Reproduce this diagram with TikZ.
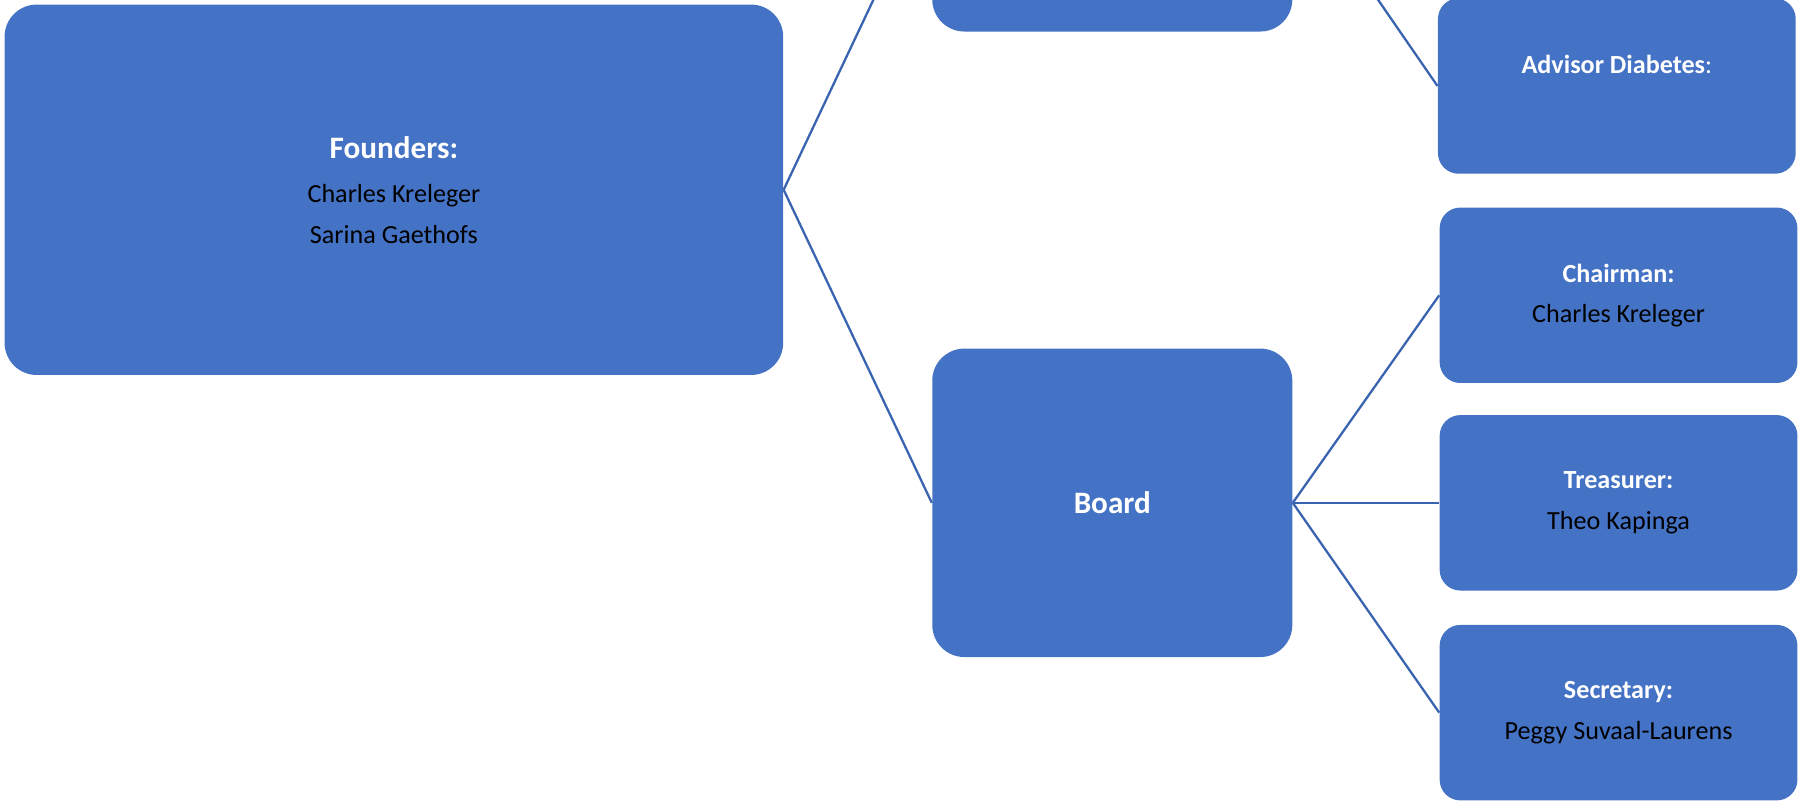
\documentclass[tikz,border=0pt]{standalone}
\usepackage{fontspec}
\setmainfont{Carlito}
\usepackage{tikz}
\usetikzlibrary{calc}

\definecolor{boxblue}{HTML}{4472C4}
\definecolor{lineblue}{HTML}{3B64B0}

\tikzset{
	orgbox/.style={fill=boxblue, rounded corners=9pt, inner sep=0pt, align=center,
		minimum width=156pt, minimum height=76.5pt,
		font=\fontsize{11.4}{17.5}\selectfont},
	bigbox/.style={orgbox, rounded corners=14pt},
	link/.style={draw=lineblue, line width=1pt}
}
\newcommand{\boxtitle}[1]{{\color{white}\bfseries #1}}
\newcommand{\bigtitle}[1]{{\fontsize{13.6}{17.5}\selectfont\color{white}\bfseries #1}}

\begin{document}
\begin{tikzpicture}[x=0.5pt,y=-0.5pt]
	\useasboundingbox (0,0) rectangle (1568,700);
	% left column
	\node[bigbox, minimum width=339.5pt, minimum height=161.5pt] (founders) at (343.5,165.5)
		{\bigtitle{Founders:}\\[2pt] Charles Kreleger\\ Sarina Gaethofs};
	% middle column
	\node[bigbox, minimum width=157pt, minimum height=135.5pt] (top) at (970,-108) {};
	\node[bigbox, minimum width=157pt, minimum height=134.5pt] (board) at (970,438.5)
		{\bigtitle{Board}};
	% right column
	\node[orgbox] (advisor) at (1410,75)
		{\boxtitle{Advisor Diabetes}{\color{white}:}\\[-4pt] \strut};
	\node[orgbox] (chairman) at (1411.5,257.5)
		{\boxtitle{Chairman:}\\ Charles Kreleger};
	\node[orgbox] (treasurer) at (1411.5,438.5)
		{\boxtitle{Treasurer:}\\ Theo Kapinga};
	\node[orgbox] (secretary) at (1411.5,621.5)
		{\boxtitle{Secretary:}\\ Peggy Suvaal-Laurens};
	% connectors
	\path[link]
	(founders.east) edge (top.west)
			edge (board.west)
	(top.east) edge (advisor.west)
	(board.east) edge (chairman.west)
			edge (treasurer.west)
			edge (secretary.west);
\end{tikzpicture}
\end{document}
